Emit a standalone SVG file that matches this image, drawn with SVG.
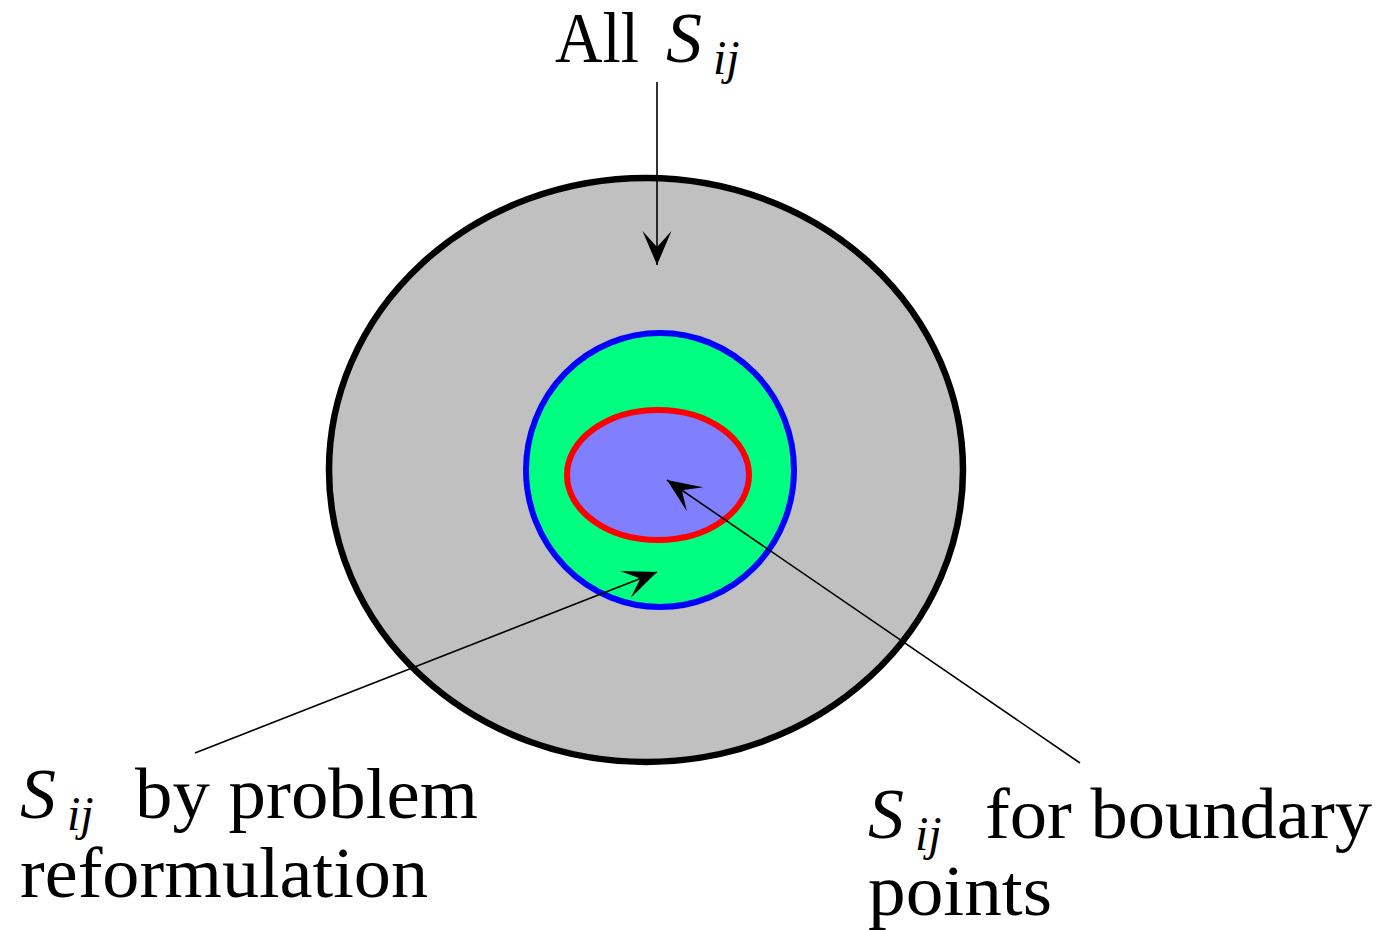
<svg xmlns="http://www.w3.org/2000/svg" width="1382" height="930" viewBox="0 0 1382 930">
<style>
.t{font-family:"Liberation Serif","Times New Roman",serif;font-size:72px;fill:#000}
.i{font-style:italic}
.sub{font-family:"Liberation Serif","Times New Roman",serif;font-size:48px;font-style:italic;fill:#000}
.conn{stroke:#000;stroke-width:1.6;fill:none}
</style>
<defs>
<marker id="ah" markerUnits="userSpaceOnUse" markerWidth="40" markerHeight="34" viewBox="-36 -17 40 34" refX="0" refY="0" orient="auto">
<path d="M0,0 L-34,-14.5 L-18,0 L-34,14.5 Z" fill="#000"/>
</marker>
</defs>
<rect width="1382" height="930" fill="#fff"/>
<g id="all">
<ellipse cx="646" cy="470" rx="317" ry="292" fill="#c0c0c0" stroke="#000" stroke-width="6.5"/>
</g>
<g id="reform">
<ellipse cx="660" cy="470" rx="134" ry="137" fill="#00ff80" stroke="#0000ff" stroke-width="6"/>
</g>
<g id="boundary">
<ellipse cx="658" cy="475" rx="91" ry="65" fill="#8080ff" stroke="#ff0000" stroke-width="6"/>
</g>
<g id="connectors">
<line class="conn" x1="657" y1="82" x2="657" y2="265" marker-end="url(#ah)"/>
<line class="conn" x1="195" y1="753" x2="657" y2="572" marker-end="url(#ah)"/>
<line class="conn" x1="1080" y1="763" x2="667" y2="480" marker-end="url(#ah)"/>
</g>
<g id="label-all">
<text class="t" x="555" y="62" textLength="84" lengthAdjust="spacingAndGlyphs">All</text>
<text class="t i" x="666" y="62">S</text>
<text class="sub" x="713" y="74">ij</text>
</g>
<g id="label-reform">
<text class="t i" x="20" y="818">S</text>
<text class="sub" x="67" y="830">ij</text>
<text class="t" x="135" y="818" textLength="343" lengthAdjust="spacingAndGlyphs">by problem</text>
<text class="t" x="20" y="897" textLength="408" lengthAdjust="spacingAndGlyphs">reformulation</text>
</g>
<g id="label-boundary">
<text class="t i" x="868" y="838">S</text>
<text class="sub" x="915" y="850">ij</text>
<text class="t" x="985" y="838" textLength="387" lengthAdjust="spacingAndGlyphs">for boundary</text>
<text class="t" x="868" y="915" textLength="184" lengthAdjust="spacingAndGlyphs">points</text>
</g>
</svg>
